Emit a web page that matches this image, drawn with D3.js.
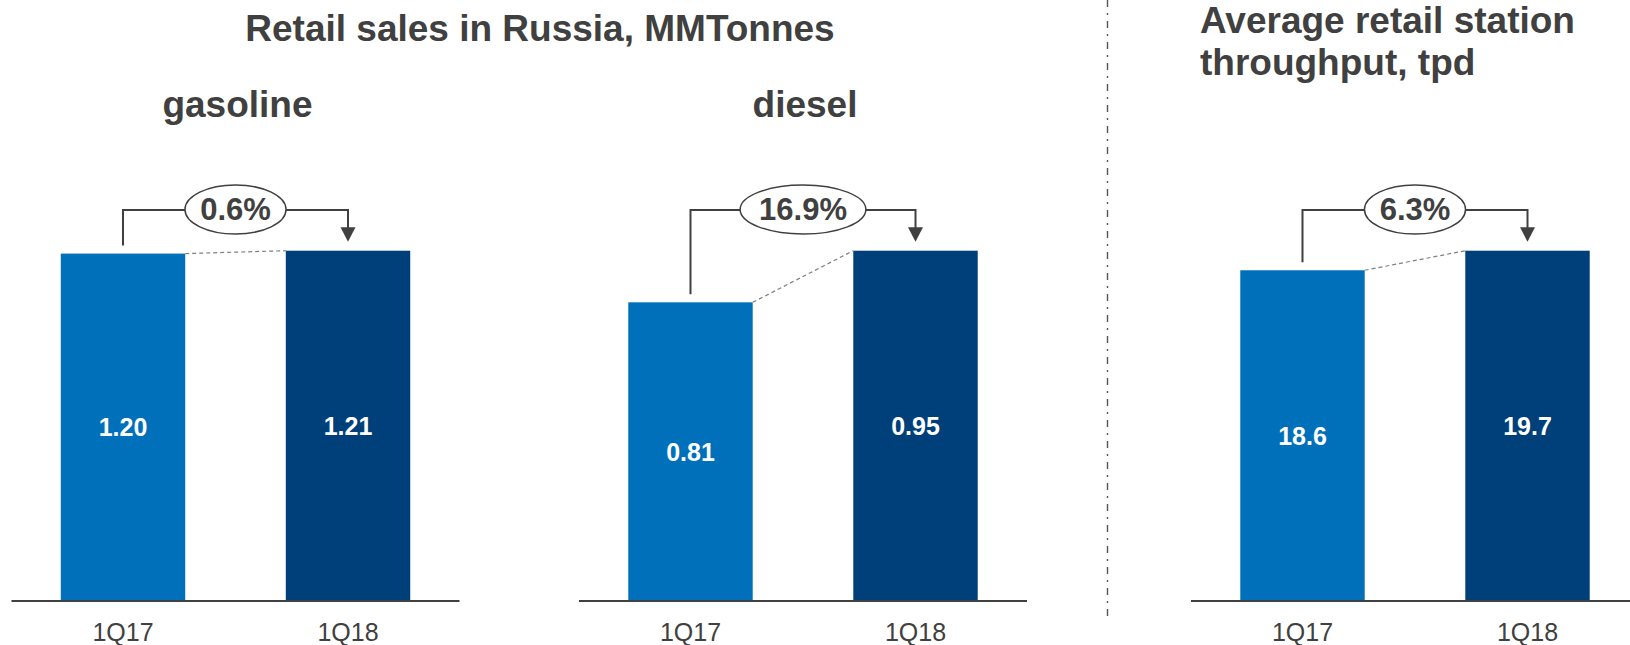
<!DOCTYPE html>
<html>
<head>
<meta charset="utf-8">
<script src="https://cdn.jsdelivr.net/npm/d3@7"></script>
<style>
  html, body { margin: 0; padding: 0; background: #ffffff; }
  svg { display: block; font-family: "Liberation Sans", Arial, Helvetica, sans-serif; }
</style>
</head>
<body>
<svg id="chart" width="1630" height="645"></svg>
<script>
// Quarters shown on every panel
const categories = ["1Q17", "1Q18"];

// Retail sales in Russia, MMTonnes
const gasolineSales = [1.20, 1.21];
const dieselSales = [0.81, 0.95];

// Average retail station throughput, tpd
const stationThroughput = [18.6, 19.7];

// Year-on-year change labels for each panel
const changeLabels = ["0.6%", "16.9%", "6.3%"];

// Panel headings and value formats
const panelNames = ["gasoline", "diesel", ""];
const valueFormats = [".2f", ".2f", ".1f"];

const seriesList = [gasolineSales, dieselSales, stationThroughput];

const TEXT = "#404040";
const BAR_COLORS = ["#0070ba", "#00407a"];

const svg = d3.select("#chart");

const panelLeft = [11.5, 579, 1191];
const panelWidth = 448;
const baseY = 601;
const topY = 250.7;
const connectorY = 210;

// Headings
svg.append("text")
  .attr("x", 540).attr("y", 41)
  .attr("text-anchor", "middle")
  .attr("font-size", 37).attr("font-weight", "bold")
  .attr("fill", TEXT)
  .text("Retail sales in Russia, MMTonnes");

const t2 = svg.append("text")
  .attr("font-size", 37).attr("font-weight", "bold")
  .attr("fill", TEXT);
t2.append("tspan").attr("x", 1200).attr("y", 33).text("Average retail station");
t2.append("tspan").attr("x", 1200).attr("y", 75).text("throughput, tpd");

// Dash-dot separator between the two groups
svg.append("line")
  .attr("x1", 1107.5).attr("x2", 1107.5)
  .attr("y1", 0).attr("y2", 622)
  .attr("stroke", "#555").attr("stroke-width", 1.4)
  .attr("stroke-dasharray", "7,6,2,6");

seriesList.forEach((values, i) => {
  const x0 = panelLeft[i];
  const g = svg.append("g");

  const x = d3.scaleBand()
    .domain(categories)
    .range([x0, x0 + panelWidth])
    .paddingInner(0.447)
    .paddingOuter(0.219);

  const y = d3.scaleLinear()
    .domain([0, d3.max(values)])
    .range([baseY, topY]);

  const fmt = d3.format(valueFormats[i]);

  // Panel heading
  if (panelNames[i]) {
    g.append("text")
      .attr("x", x0 + panelWidth / 2 + 2).attr("y", 117)
      .attr("text-anchor", "middle")
      .attr("font-size", 37).attr("font-weight", "bold")
      .attr("fill", TEXT)
      .text(panelNames[i]);
  }

  // Bars
  g.selectAll("rect.bar")
    .data(values)
    .join("rect")
    .attr("class", "bar")
    .attr("x", (d, j) => x(categories[j]))
    .attr("y", d => y(d))
    .attr("width", x.bandwidth())
    .attr("height", d => baseY - y(d))
    .attr("fill", (d, j) => BAR_COLORS[j]);

  // Value labels inside bars
  g.selectAll("text.val")
    .data(values)
    .join("text")
    .attr("class", "val")
    .attr("x", (d, j) => x(categories[j]) + x.bandwidth() / 2)
    .attr("y", d => (y(d) + baseY) / 2)
    .attr("text-anchor", "middle")
    .attr("dominant-baseline", "central")
    .attr("font-size", 25).attr("font-weight", "bold")
    .attr("fill", "#ffffff")
    .text(d => fmt(d));

  // Dashed line joining bar tops
  g.append("line")
    .attr("x1", x(categories[0]) + x.bandwidth())
    .attr("y1", y(values[0]))
    .attr("x2", x(categories[1]))
    .attr("y2", y(values[1]))
    .attr("stroke", "#7f7f7f").attr("stroke-width", 1.2)
    .attr("stroke-dasharray", "4,3");

  // Baseline axis with quarter labels
  const axis = d3.axisBottom(x).tickSize(0).tickPadding(0);
  const ax = g.append("g")
    .attr("transform", `translate(0,${baseY})`)
    .call(axis);
  ax.select(".domain")
    .attr("d", `M${x0},0H${x0 + panelWidth}`)
    .attr("stroke", TEXT).attr("stroke-width", 2);
  ax.selectAll(".tick text")
    .attr("y", 40)
    .attr("dy", null)
    .attr("font-size", 25)
    .attr("font-family", "'Liberation Sans', Arial, sans-serif")
    .attr("fill", TEXT);

  // Change connector: up from first bar, across, down with arrow to second bar
  const cx1 = x(categories[0]) + x.bandwidth() / 2;
  const cx2 = x(categories[1]) + x.bandwidth() / 2;
  const tipY = y(values[1]) - 9;
  g.append("path")
    .attr("d", `M${cx1},${y(values[0]) - 8}V${connectorY}H${cx2}V${tipY - 13}`)
    .attr("fill", "none")
    .attr("stroke", TEXT).attr("stroke-width", 2);
  g.append("path")
    .attr("d", `M${cx2 - 7.5},${tipY - 14.5}L${cx2 + 7.5},${tipY - 14.5}L${cx2},${tipY}Z`)
    .attr("fill", TEXT);

  const mid = (cx1 + cx2) / 2;
  const ell = g.append("ellipse")
    .attr("cx", mid).attr("cy", connectorY - 0.5)
    .attr("ry", 24.5)
    .attr("fill", "#ffffff")
    .attr("stroke", TEXT).attr("stroke-width", 1.5);
  const lbl = g.append("text")
    .attr("x", mid).attr("y", connectorY - 0.5)
    .attr("text-anchor", "middle")
    .attr("dominant-baseline", "central")
    .attr("font-size", 31).attr("font-weight", "bold")
    .attr("fill", TEXT)
    .text(changeLabels[i]);
  const w = lbl.node().getComputedTextLength();
  ell.attr("rx", w / 2 * 1.43);
});
</script>
</body>
</html>
